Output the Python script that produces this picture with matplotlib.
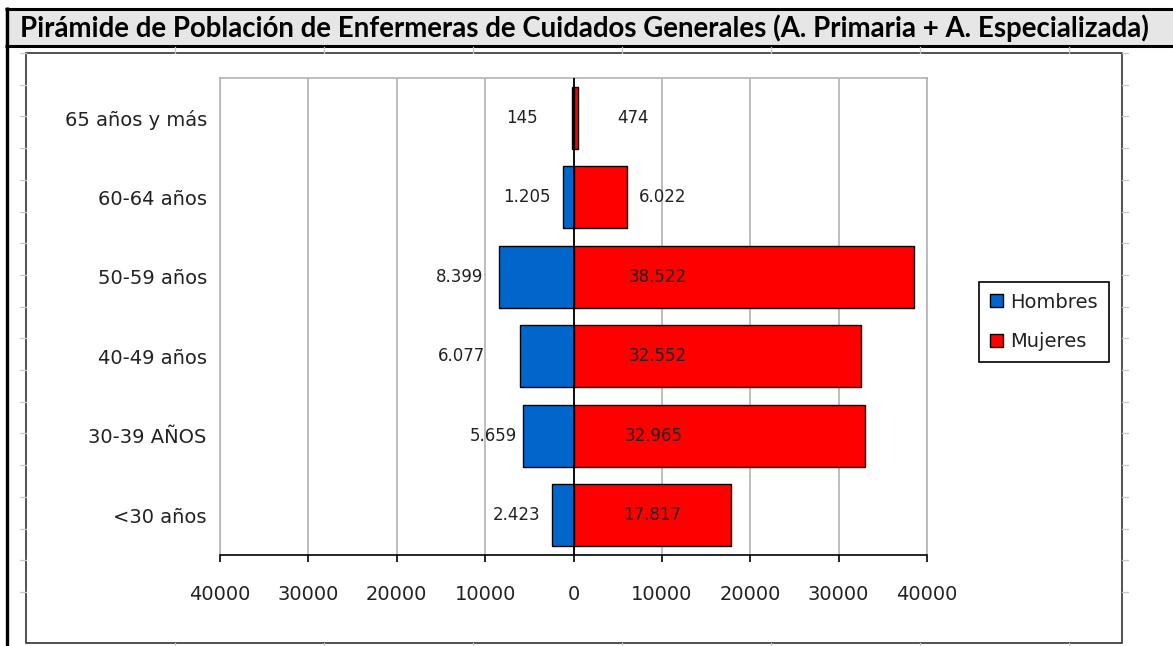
import matplotlib.pyplot as plt
from matplotlib.patches import Patch, Rectangle

grupos = ['<30 años', '30-39 AÑOS', '40-49 años', '50-59 años', '60-64 años', '65 años y más']
hombres = [2423, 5659, 6077, 8399, 1205, 145]
mujeres = [17817, 32965, 32552, 38522, 6022, 474]

# x position of the value labels (right edge for men, centre for women)
x_etiq_hombres = [-3730, -6340, -9960, -10180, -2600, -4070]
x_etiq_mujeres = [8940, 9050, 9500, 9500, 10070, 6680]

ticks_x = [-40000, -30000, -20000, -10000, 0, 10000, 20000, 30000, 40000]

titulo = 'Pirámide de Población de Enfermeras de Cuidados Generales (A. Primaria + A. Especializada)'

AZUL = '#0066CC'
ROJO = '#FF0000'
GRIS = '#b3b3b3'
W, H = 1173, 646


def miles(v):
    return f'{v:,}'.replace(',', '.')


fig = plt.figure(figsize=(W / 100, H / 100), dpi=100)

# sheet decoration in pixel coordinates
bg = fig.add_axes([0, 0, 1, 1], zorder=0)
bg.set_xlim(0, W)
bg.set_ylim(H, 0)
bg.axis('off')
bg.add_patch(Rectangle((5, 8.5), W - 5, 37, facecolor='#e6e6e6', edgecolor='none'))
bg.plot([5, W], [8.5, 8.5], color='black', lw=2.2, solid_capstyle='butt')
bg.plot([5, W], [45.5, 45.5], color='black', lw=2.2, solid_capstyle='butt')
bg.plot([6.5, 6.5], [7, H], color='black', lw=2.4, solid_capstyle='butt')
for k in range(18):
    yy = 53 + 31.7 * k
    bg.plot([20, 26], [yy, yy], color='#c8c8c8', lw=0.9)
    bg.plot([1122, 1128], [yy, yy], color='#c8c8c8', lw=0.9)
for xx in [175, 324, 473, 622, 771, 920, 1069]:
    bg.plot([xx, xx], [47, 53], color='#c8c8c8', lw=0.9)
    bg.plot([xx, xx], [643, H], color='#c8c8c8', lw=0.9)
bg.add_patch(Rectangle((26, 53), 1096, 590, fill=False, edgecolor='#333333', lw=1.2))

fig.text(20 / W, 1 - 36.5 / H, titulo, fontfamily='Lato', fontweight='bold',
         fontsize=19.9, va='baseline', ha='left', color='black')

ax = fig.add_axes([220 / W, 1 - 555 / H, 707 / W, 477 / H], zorder=2)
y = list(range(len(grupos)))

ax.barh(y, [-v for v in hombres], height=0.78, color=AZUL, edgecolor='black', lw=1, zorder=2)
ax.barh(y, mujeres, height=0.78, color=ROJO, edgecolor='black', lw=1, zorder=2)
ax.axvline(0, color='black', lw=1.3, zorder=3)

for i in y:
    ax.text(x_etiq_hombres[i], i, miles(hombres[i]), ha='right', va='center',
            fontsize=12, color='#222222', zorder=4)
    ax.text(x_etiq_mujeres[i], i, miles(mujeres[i]), ha='center', va='center',
            fontsize=12, color='#222222', zorder=4)

ax.set_xlim(-40000, 40000)
ax.set_ylim(-0.5, len(grupos) - 0.5)
ax.set_xticks(ticks_x)
ax.set_xticklabels([str(abs(t)) for t in ticks_x])
ax.set_yticks(y)
ax.set_yticklabels(grupos)

ax.set_axisbelow(True)
ax.xaxis.grid(True, color=GRIS, lw=1.2)
for lado in ['left', 'right', 'top']:
    ax.spines[lado].set_color(GRIS)
    ax.spines[lado].set_linewidth(1.2)
ax.spines['bottom'].set_color('black')
ax.spines['bottom'].set_linewidth(1.2)

ax.tick_params(axis='x', length=5, width=1.2, pad=16.5, labelsize=14, labelcolor='#222222')
ax.tick_params(axis='y', length=0, pad=9.5, labelsize=14, labelcolor='#222222')

handles = [Patch(facecolor=AZUL, edgecolor='black', label='Hombres'),
           Patch(facecolor=ROJO, edgecolor='black', label='Mujeres')]
leg = fig.legend(handles=handles, loc='upper left', bbox_to_anchor=(979 / W, 1 - 282 / H),
                 fontsize=14, frameon=True, fancybox=False, edgecolor='black', framealpha=1,
                 borderpad=0.55, handlelength=0.67, handleheight=0.67, handletextpad=0.4,
                 labelspacing=1.05, borderaxespad=0)
leg.get_frame().set_linewidth(1.2)
for t in leg.get_texts():
    t.set_color('#222222')

fig.savefig('out.png', dpi=100)
plt.close(fig)
